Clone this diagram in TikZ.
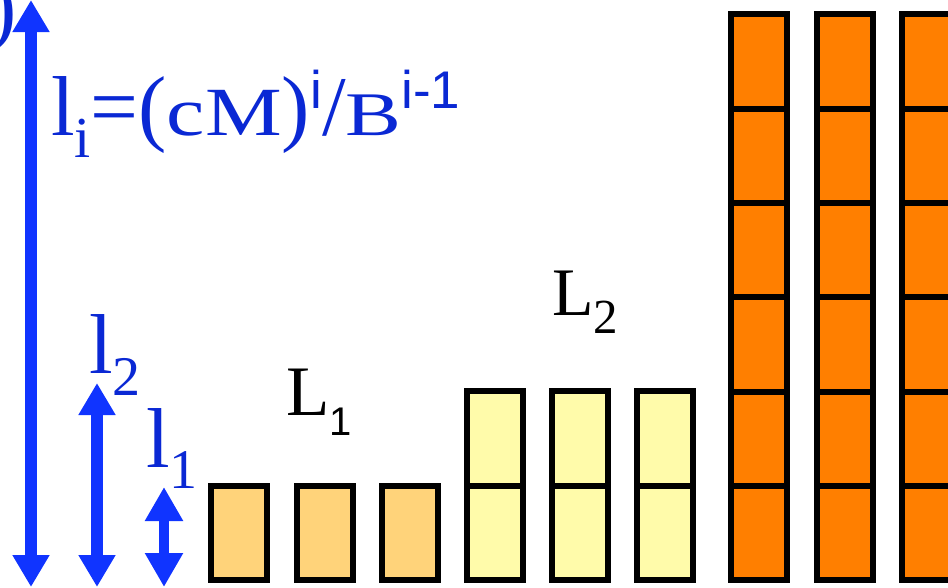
\documentclass[tikz,border=0pt]{standalone}
\usepackage{fontspec}
\setmainfont{Liberation Serif}
\newfontfamily\arialfont{Liberation Sans}
\usepackage{graphicx}
\usepackage{tikz}
\usetikzlibrary{arrows.meta}
\definecolor{arrowblue}{RGB}{16,52,255}
\definecolor{textblue}{RGB}{10,40,212}
\definecolor{lowfill}{RGB}{255,211,122}
\definecolor{midfill}{RGB}{255,251,170}
\definecolor{topfill}{RGB}{255,127,0}
\newcommand{\fsz}[1]{\fontsize{#1}{#1}\selectfont}
\tikzset{
  cell/.style={
    draw,
    line width=6pt,
    minimum width=56pt,
    minimum height=94.3pt,
    inner sep=0pt,
    outer sep=0pt
  },
  lbl/.style={inner sep=0pt, outer sep=0pt, anchor=base west},
  span/.style={
    {Triangle[width=35pt,length=32pt]}-{Triangle[width=35pt,length=32pt]},
    line width=12pt,
    draw=arrowblue
  },
  span small/.style={
    {Triangle[width=36pt,length=34pt]}-{Triangle[width=36pt,length=34pt]},
    line width=10pt,
    draw=arrowblue
  }
}

\begin{document}
\begin{tikzpicture}[x=1pt,y=-1pt]
  \useasboundingbox (0,0) rectangle (948,587);

  % level 1
  \foreach \x [count=\k] in {239,324.5,409.5}
    \node[cell, fill=lowfill] (a\k) at (\x,533) {};
  % level 2
  \foreach \x [count=\k] in {494.5,580,665}
    \foreach \y [count=\r] in {533,438.5}
      \node[cell, fill=midfill] (b\k-\r) at (\x,\y) {};
  % level 3
  \foreach \x [count=\k] in {759,844.5,929.5}
    \foreach \y [count=\r] in {533,438.7,344.4,250.1,155.8,61.5}
      \node[cell, fill=topfill] (c\k-\r) at (\x,\y) {};

  \node[lbl] (lab1) at (286,415) {\fsz{71}L\raisebox{-20pt}{\arialfont\fsz{40}1}};
  \node[lbl] (lab2) at (552,315) {\fsz{68}L\raisebox{-18pt}{\fsz{49}2}};

  % spans
  \coordinate (big top) at (31,0);
  \coordinate (big bot) at (31,587);
  \coordinate (two top) at (97,383);
  \coordinate (two bot) at (97,587);
  \coordinate (one top) at (164,487);
  \coordinate (one bot) at (164,587);
  \draw[span] (big top) -- (big bot);
  \draw[span] (two top) -- (two bot);
  \draw[span small] (one top) -- (one bot);

  \node[lbl, text=textblue] (cut) at (-11,35) {\fsz{85})};
  \node[lbl, text=textblue] (formula) at (51,135)
    {\fsz{85}l\raisebox{-22pt}{\fsz{58}i}=(\scalebox{1.25}[1]{\fsz{69}cM})\raisebox{27pt}{\arialfont\fsz{53}i}/\scalebox{1.35}[1]{\fsz{62}B}\raisebox{27pt}{\arialfont\fsz{53}i-1}};
  \node[lbl, text=textblue] (len2) at (89,373) {\fsz{85}l\raisebox{-22pt}{\fsz{56}2}};
  \node[lbl, text=textblue] (len1) at (146,467) {\fsz{85}l\raisebox{-21pt}{\fsz{56}1}};
\end{tikzpicture}
\end{document}
